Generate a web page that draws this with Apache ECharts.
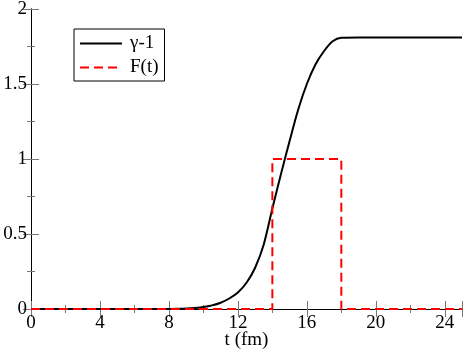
<!DOCTYPE html>
<html>
<head>
<meta charset="utf-8">
<script src="https://cdn.jsdelivr.net/npm/echarts@6/dist/echarts.min.js"></script>
<style>
  html, body { margin: 0; padding: 0; background: #fff; }
  #main { width: 463px; height: 352px; }
</style>
</head>
<body>
<div id="main"></div>
<script>
// gamma - 1
var tGamma = [0, 2, 4, 6, 8, 8.5, 9, 9.5, 10, 10.5, 11, 11.5, 12, 12.5, 13, 13.5, 14, 14.5, 15, 15.5, 16, 16.5, 17, 17.5, 18, 19, 20, 22, 24, 25];
var gammaVals = [0, 0, 0, 0, 0, 0.001, 0.003, 0.007, 0.013, 0.024, 0.042, 0.07, 0.11, 0.175, 0.275, 0.43, 0.67, 0.9, 1.12, 1.33, 1.5, 1.63, 1.72, 1.785, 1.808, 1.81, 1.81, 1.81, 1.81, 1.81];
// F(t) pulse
var tF = [0, 14, 14, 18, 18, 25];
var fVals = [0, 0, 1, 1, 0, 0];

function pairs(xs, ys) {
    var out = [];
    for (var i = 0; i < xs.length; i++) out.push([xs[i], ys[i]]);
    return out;
}

var font = 'Liberation Serif';
var myChart = echarts.init(document.getElementById('main'));

var tickStyle = { show: true, inside: true, length: 8, lineStyle: { color: '#777', width: 1 } };
var minorStyle = { show: true, splitNumber: 2, length: 4, lineStyle: { color: '#777', width: 1 } };

var option = {
    animation: false,
    backgroundColor: '#fff',
    grid: { left: 31, right: 1, top: 9, bottom: 43, outerBoundsMode: 'none', containLabel: false },
    legend: {
        left: 74, top: 29,
        orient: 'vertical',
        itemWidth: 42, itemHeight: 14, itemGap: 5,
        padding: [5, 6, 4, 5],
        borderColor: '#000', borderWidth: 1,
        itemStyle: { opacity: 0 },
        textStyle: { fontFamily: font, fontSize: 19, color: '#000', lineHeight: 18, padding: [0, 0, 0, 3] },
        data: ['γ-1', 'F(t)']
    },
    xAxis: [{
        type: 'value', min: 0, max: 25, interval: 4,
        name: 't (fm)', nameLocation: 'middle', nameGap: 22, nameMoveOverlap: false,
        nameTextStyle: { fontFamily: font, fontSize: 19, color: '#000' },
        axisLine: { lineStyle: { color: '#000', width: 1 } },
        axisTick: tickStyle, minorTick: minorStyle,
        axisLabel: { fontFamily: font, fontSize: 19, color: '#000', margin: 5, showMaxLabel: false },
        splitLine: { show: false }
    }, {
        type: 'value', min: 0, max: 25, interval: 4, position: 'top',
        axisLine: { lineStyle: { color: '#000', width: 1 } },
        axisTick: tickStyle, minorTick: minorStyle,
        axisLabel: { show: false }, splitLine: { show: false }
    }],
    yAxis: [{
        type: 'value', min: 0, max: 2, interval: 0.5,
        axisLine: { show: true, lineStyle: { color: '#000', width: 1 } },
        axisTick: tickStyle, minorTick: minorStyle,
        axisLabel: { fontFamily: font, fontSize: 19, color: '#000', margin: 4 },
        splitLine: { show: false }
    }, {
        type: 'value', min: 0, max: 2, interval: 0.5, position: 'right',
        axisLine: { show: true, lineStyle: { color: '#000', width: 1 } },
        axisTick: tickStyle, minorTick: minorStyle,
        axisLabel: { show: false }, splitLine: { show: false }
    }],
    series: [{
        name: 'γ-1', type: 'line', symbol: 'none',
        smooth: 0.3,
        data: pairs(tGamma, gammaVals),
        lineStyle: { color: '#000', width: 2 },
        itemStyle: { color: '#000' }
    }, {
        name: 'F(t)', type: 'line', symbol: 'none',
        data: pairs(tF, fVals),
        lineStyle: { color: '#ff0000', width: 2, type: [9, 5] },
        itemStyle: { color: '#ff0000' }
    }]
};
myChart.setOption(option);
</script>
</body>
</html>
